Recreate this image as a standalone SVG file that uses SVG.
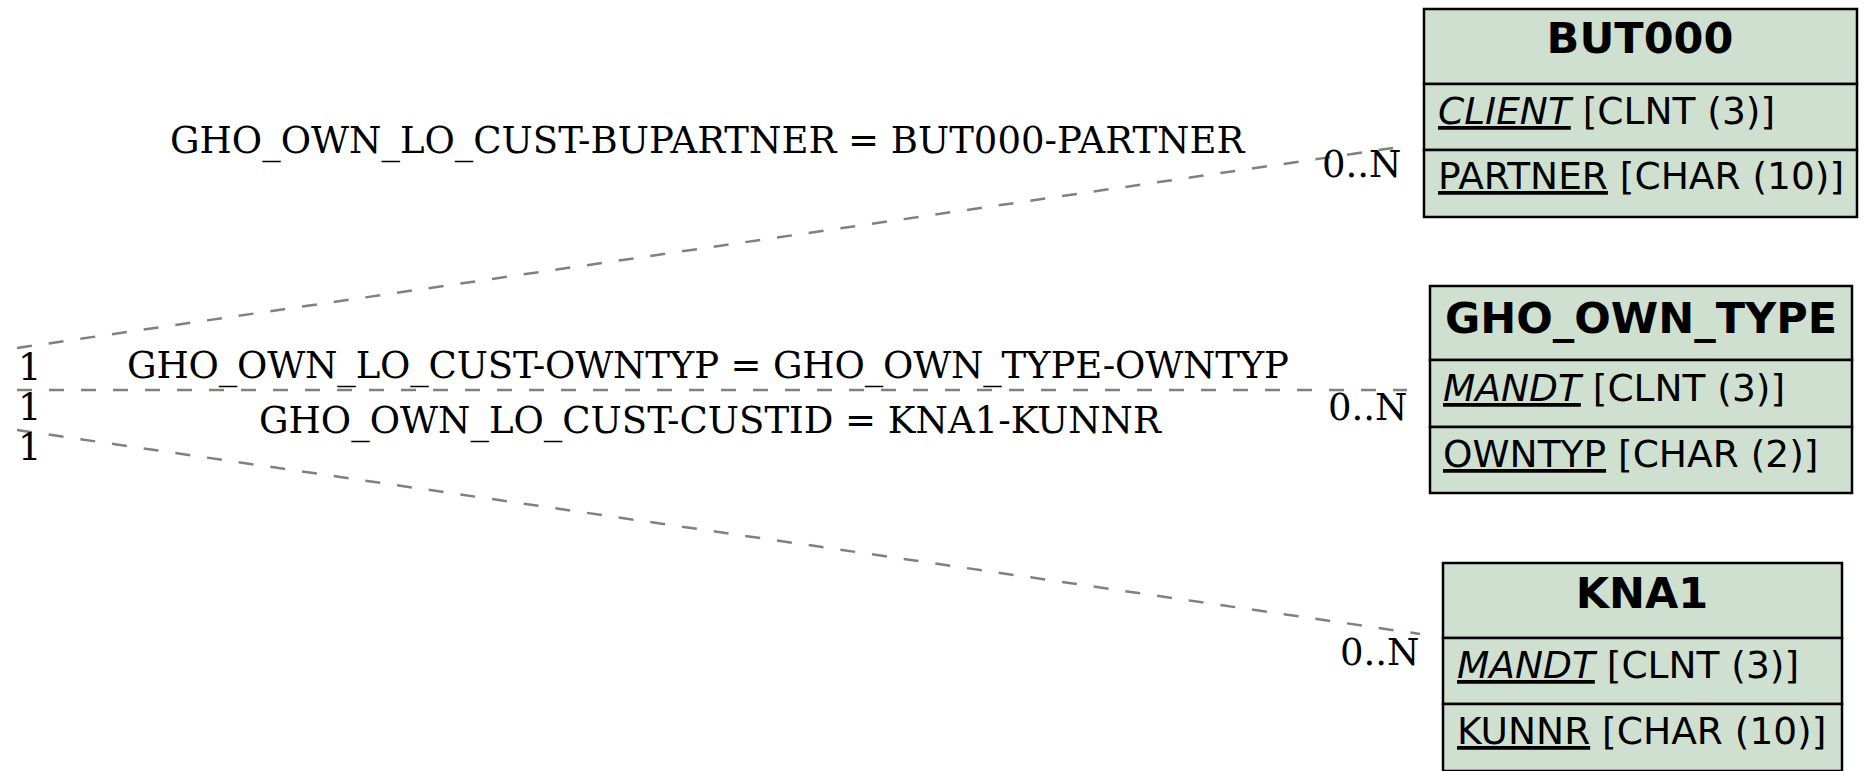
<svg xmlns="http://www.w3.org/2000/svg" width="1867" height="771" viewBox="0 0 1867 771">
<style>
.box{fill:#d0e0d0;stroke:#000;stroke-width:2.5}
.hdr{font-family:"DejaVu Sans",sans-serif;font-weight:bold;font-size:43px;text-anchor:middle;fill:#000}
.fld{font-family:"DejaVu Sans",sans-serif;font-size:37.5px;fill:#000}
.lbl{font-family:"DejaVu Serif",serif;font-size:37px;fill:#000}
.edge{stroke:#808080;stroke-width:2.5;stroke-dasharray:15,17;fill:none}
</style>
<rect width="1867" height="771" fill="#fff"/>
<g id="connectors">
<path class="edge" d="M17,348 L1393,148"/>
<path class="edge" d="M17,390 L1407,390"/>
<path class="edge" d="M17,430 L1420,634"/>
<text class="lbl" x="170" y="153">GHO_OWN_LO_CUST-BUPARTNER = BUT000-PARTNER</text>
<text class="lbl" x="127" y="378" textLength="1162">GHO_OWN_LO_CUST-OWNTYP = GHO_OWN_TYPE-OWNTYP</text>
<text class="lbl" x="259" y="433">GHO_OWN_LO_CUST-CUSTID = KNA1-KUNNR</text>
<text class="lbl" x="18" y="380">1</text>
<text class="lbl" x="18" y="420">1</text>
<text class="lbl" x="18" y="460">1</text>
<text class="lbl" x="1322" y="177">0..N</text>
<text class="lbl" x="1328" y="420">0..N</text>
<text class="lbl" x="1340" y="665">0..N</text>
</g>
<g id="BUT000">
<rect class="box" x="1424" y="9" width="433" height="75"/>
<rect class="box" x="1424" y="84" width="433" height="66"/>
<rect class="box" x="1424" y="150" width="433" height="67"/>
<text class="hdr" x="1640" y="53">BUT000</text>
<text class="fld" x="1438" y="124"><tspan font-style="italic" text-decoration="underline">CLIENT</tspan> [CLNT (3)]</text>
<text class="fld" x="1438" y="189"><tspan text-decoration="underline">PARTNER</tspan> [CHAR (10)]</text>
</g>
<g id="GHO_OWN_TYPE">
<rect class="box" x="1430" y="286" width="422" height="74"/>
<rect class="box" x="1430" y="360" width="422" height="67"/>
<rect class="box" x="1430" y="427" width="422" height="66"/>
<text class="hdr" x="1641" y="333">GHO_OWN_TYPE</text>
<text class="fld" x="1443" y="401"><tspan font-style="italic" text-decoration="underline">MANDT</tspan> [CLNT (3)]</text>
<text class="fld" x="1443" y="467"><tspan text-decoration="underline">OWNTYP</tspan> [CHAR (2)]</text>
</g>
<g id="KNA1">
<rect class="box" x="1443" y="563" width="399" height="75"/>
<rect class="box" x="1443" y="638" width="399" height="66"/>
<rect class="box" x="1443" y="704" width="399" height="67"/>
<text class="hdr" x="1642" y="608">KNA1</text>
<text class="fld" x="1457" y="678"><tspan font-style="italic" text-decoration="underline">MANDT</tspan> [CLNT (3)]</text>
<text class="fld" x="1457" y="744"><tspan text-decoration="underline">KUNNR</tspan> [CHAR (10)]</text>
</g>
</svg>
